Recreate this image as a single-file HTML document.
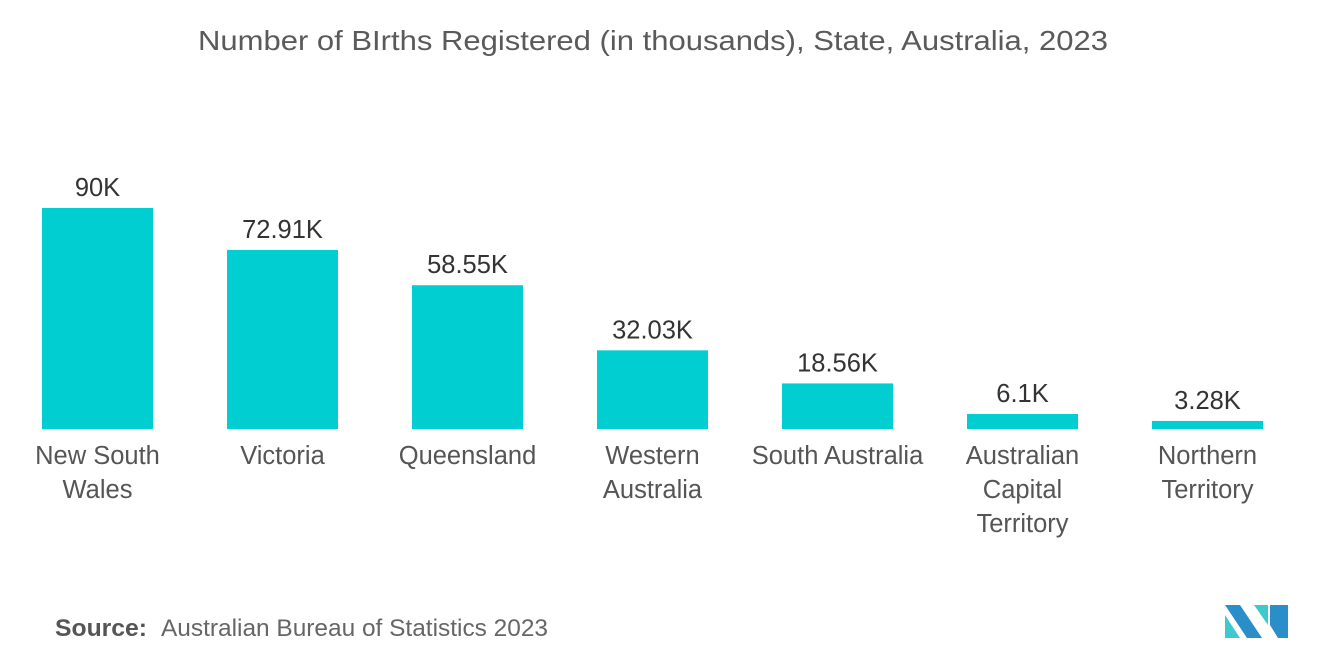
<!DOCTYPE html>
<html><head><meta charset="utf-8"><style>
body{margin:0;background:#fff;font-family:"Liberation Sans",sans-serif;}
</style></head><body>
<svg width="1320" height="665" xmlns="http://www.w3.org/2000/svg">
<text x="653" y="50" text-anchor="middle" font-size="28" textLength="910" lengthAdjust="spacingAndGlyphs" fill="#5a5a5a" font-family="Liberation Sans, sans-serif">Number of BIrths Registered (in thousands), State, Australia, 2023</text>
<g id="bars"></g>
<text x="55" y="636" font-size="24" textLength="92" lengthAdjust="spacingAndGlyphs" fill="#555" font-weight="bold">Source:</text>
<text x="161" y="636" font-size="24" textLength="387" lengthAdjust="spacingAndGlyphs" fill="#666">Australian Bureau of Statistics 2023</text>
<g>
<polygon points="1225,605 1240,605 1262,638 1247,638" fill="#2a8fc9"/>
<polygon points="1225,615 1240,638 1225,638" fill="#3ec9d0"/>
<polygon points="1254,605 1268,605 1268,625" fill="#3ec9d0"/>
<polygon points="1270,605 1288,605 1288,638 1278,638 1270,625" fill="#2a8fc9"/>
</g>
</svg>
<script>
const categories=[["New South","Wales"],["Victoria"],["Queensland"],["Western","Australia"],["South Australia"],["Australian","Capital","Territory"],["Northern","Territory"]];
const values=[90,72.91,58.55,32.03,18.56,6.1,3.28];
const valueLabels=["90K","72.91K","58.55K","32.03K","18.56K","6.1K","3.28K"];
const base=429,maxH=221,maxV=90,x0=42,step=185,bw=111;
const y=v=>base-v*maxH/maxV;
const g=document.getElementById('bars');
const NS="http://www.w3.org/2000/svg";
values.forEach((v,i)=>{
 const x=x0+i*step;
 const r=document.createElementNS(NS,'rect');
 r.setAttribute('x',x);r.setAttribute('y',y(v));r.setAttribute('width',bw);r.setAttribute('height',base-y(v));r.setAttribute('fill','#00ced1');
 
 
 g.appendChild(r);
 const t=document.createElementNS(NS,'text');
 t.setAttribute('x',x+bw/2);t.setAttribute('y',y(v)-12);t.setAttribute('text-anchor','middle');t.setAttribute('font-size','25.5');t.setAttribute('fill','#333');
 t.textContent=valueLabels[i];
 
 
 g.appendChild(t);
 categories[i].forEach((line,j)=>{
  const c=document.createElementNS(NS,'text');
  c.setAttribute('x',x+bw/2);c.setAttribute('y',464+j*34);c.setAttribute('text-anchor','middle');c.setAttribute('font-size','25.5');c.setAttribute('fill','#555');
  c.textContent=line;
  
  
  g.appendChild(c);
 });
});
</script>
</body></html>
